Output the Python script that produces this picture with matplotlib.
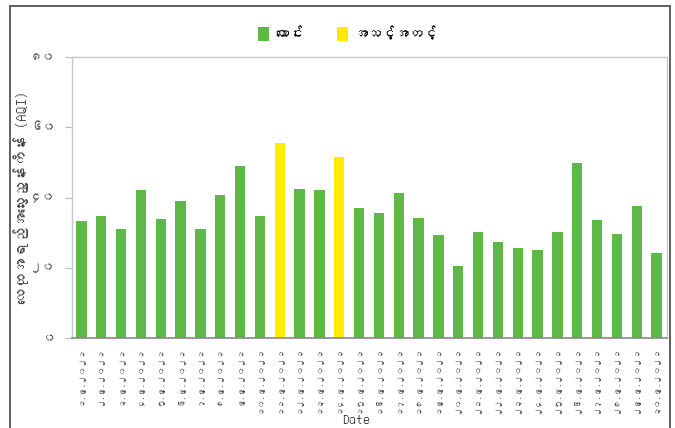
import matplotlib
matplotlib.use("Agg")
import matplotlib.pyplot as plt
from matplotlib import font_manager as fm
from matplotlib.patches import Rectangle, Patch

# ---- find a font with Myanmar glyphs, if any ----
my_family = None
try:
    from fontTools.ttLib import TTFont
    for f in sorted(fm.findSystemFonts()):
        try:
            tt = TTFont(f, fontNumber=0, lazy=True)
            cmap = tt.getBestCmap()
            if cmap and 0x1000 in cmap and 0x1041 in cmap:
                fm.fontManager.addfont(f)
                my_family = fm.FontProperties(fname=f).get_name()
                break
        except Exception:
            pass
except Exception:
    pass
families = ([my_family] if my_family else []) + ["DejaVu Sans"]
plt.rcParams["font.family"] = families

# ---- data ----
my_digits = "၀၁၂၃၄၅၆၇၈၉"
def mm(n):
    return "".join(my_digits[int(c)] for c in str(n))

days = list(range(1, 31))
dates = [f"{mm(d)}.၉.၂၀၂၁" for d in days]
aqi = [33.4, 34.8, 31.0, 42.2, 34.0, 39.0, 31.0, 40.7, 49.0, 34.8,
       55.6, 42.5, 42.2, 51.5, 37.1, 35.6, 41.4, 34.2, 29.3, 20.6,
       30.3, 27.4, 25.7, 25.1, 30.3, 49.7, 33.7, 29.5, 37.7, 24.3]
categories = ["ကောင်း", "အသင့်အတင့်"]
colors = {"ကောင်း": "#5db845", "အသင့်အတင့်": "#ffec00"}
yticks = [0, 20, 40, 60, 80]
ylabel = "လေထုအရည်အသွေးညွှန်းကိန်း (AQI)"
xlabel = "Date"

def category(v):
    return "ကောင်း" if v <= 50 else "အသင့်အတင့်"

# ---- figure ----
fig = plt.figure(figsize=(6.75, 4.28), dpi=100)
ax = fig.add_axes([0.1067, 0.2103, 0.8813, 0.6565])

x = list(range(len(days)))
bar_colors = [colors[category(v)] for v in aqi]
ax.bar(x, aqi, width=0.52, color=bar_colors, edgecolor="none", zorder=2)

ax.set_xlim(-0.47, len(days) - 0.48)
ax.set_ylim(0, 80)
ax.set_yticks(yticks)
ax.set_yticklabels([mm(t) for t in yticks], fontsize=9, color="#555555")
ax.set_xticks(x)
ax.set_xticklabels(dates, rotation=90, fontsize=6, color="#555555")
ax.tick_params(axis="y", direction="out", length=5, color="#bbbbbb", pad=7)
ax.tick_params(axis="x", length=0, pad=6)

for s in ["top", "left", "right"]:
    ax.spines[s].set_color("#c8c8c8")
    ax.spines[s].set_linewidth(1.0)
ax.spines["bottom"].set_color("#888888")
ax.spines["bottom"].set_linewidth(1.2)

ax.set_ylabel(ylabel, fontsize=11, color="#444444")
ax.yaxis.set_label_coords(-0.072, 0.5)
fig.text(0.528, 0.004, xlabel, ha="center", va="bottom", fontsize=10,
         color="#333333", fontweight="bold")

# legend
handles = [Patch(facecolor=colors[c], edgecolor="none", label=c) for c in categories]
fig.legend(handles=handles, loc="center", bbox_to_anchor=(0.515, 0.922), ncol=2,
           frameon=False, fontsize=10, handlelength=0.8, handleheight=1.1,
           columnspacing=2.5, handletextpad=0.4)

# outer border
fig.add_artist(Rectangle((10 / 675, -0.05), 660 / 675, 1.05 - 6 / 428,
                         transform=fig.transFigure, fill=False,
                         edgecolor="#444444", linewidth=1.2))

fig.savefig("out.png", dpi=100)
